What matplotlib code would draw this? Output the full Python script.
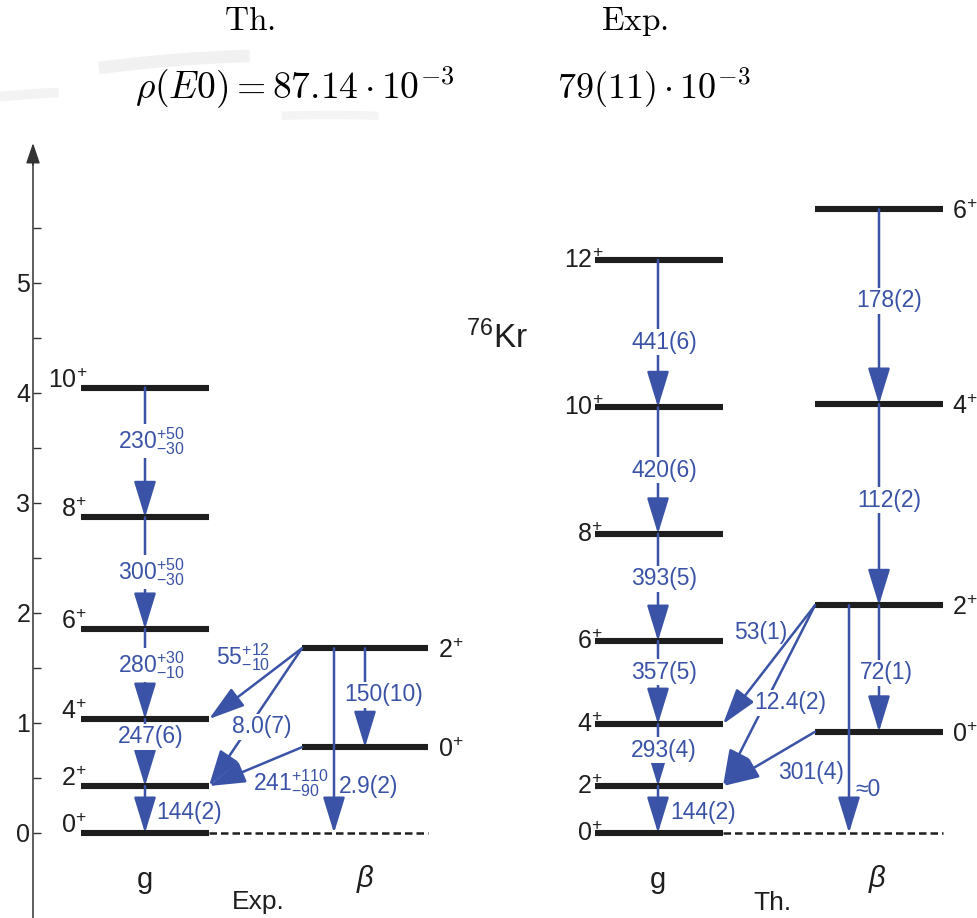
import matplotlib.pyplot as plt
from matplotlib.patches import Arc

plt.rcParams['font.family'] = 'Liberation Sans'
plt.rcParams['mathtext.fontset'] = 'custom'
plt.rcParams['mathtext.rm'] = 'Liberation Sans'
plt.rcParams['mathtext.it'] = 'Liberation Sans:italic'
plt.rcParams['mathtext.bf'] = 'Liberation Sans:bold'

BLUE = '#3a53a6'
INK = '#1e1e1e'

# experiment (left), level energies in MeV
exp_g_energy = [0.0, 0.427, 1.036, 1.855, 2.87, 4.05]
exp_g_spin = ['0', '2', '4', '6', '8', '10']
exp_b_energy = [0.78, 1.68]
exp_b_spin = ['0', '2']
exp_g_trans = ['144(2)', '247(6)', r'$280^{+30}_{-10}$', r'$300^{+50}_{-30}$', r'$230^{+50}_{-30}$']
exp_b_trans = ['150(10)']
exp_inter = [r'$55^{+12}_{-10}$', '8.0(7)', r'$241^{+110}_{-90}$', '2.9(2)']

# theory (right)
th_g_energy = [0.0, 0.427, 0.99, 1.745, 2.72, 3.87, 5.21]
th_g_spin = ['0', '2', '4', '6', '8', '10', '12']
th_b_energy = [0.92, 2.07, 3.90, 5.67]
th_b_spin = ['0', '2', '4', '6']
th_g_trans = ['144(2)', '293(4)', '357(5)', '393(5)', '420(6)', '441(6)']
th_b_trans = ['72(1)', '112(2)', '178(2)']
th_inter = ['53(1)', '12.4(2)', '301(4)', '\u22480']

yticks = [0, 1, 2, 3, 4, 5]


def e(py):
    # pixel row -> energy
    return (833 - py) / 110.0


fig = plt.figure(figsize=(9.78, 9.18), dpi=100)

# faint background swoosh
bg = fig.add_axes([0, 0, 1, 1], zorder=-1)
bg.set_xlim(0, 978)
bg.set_ylim(918, 0)
bg.axis('off')
bg.add_patch(Arc((300, 1500), 3000, 2890, theta1=262, theta2=268, color='#f1f1f1', lw=9))
bg.add_patch(Arc((150, 1400), 3000, 2620, theta1=262, theta2=266, color='#f3f3f3', lw=7))
bg.add_patch(Arc((330, 1500), 3000, 2770, theta1=268, theta2=272, color='#f4f4f4', lw=6))

ax = fig.add_axes([0, 0, 1, 1])
ax.set_xlim(0, 978)
ax.set_ylim(e(918), e(0))
ax.axis('off')

# energy axis
axl = fig.add_axes([33 / 978, 0, 0.3, 1])
axl.set_ylim(e(918), e(0))
axl.patch.set_alpha(0)
for s in ['top', 'right', 'bottom']:
    axl.spines[s].set_visible(False)
axl.spines['left'].set_bounds(e(918), e(152))
axl.spines['left'].set_color('#333333')
axl.spines['left'].set_linewidth(1.1)
axl.set_xticks([])
axl.set_yticks(yticks)
axl.set_yticks([t + 0.5 for t in yticks], minor=True)
axl.tick_params(axis='y', which='both', direction='in', length=5.5, width=1,
                color='#333333', labelsize=18, labelcolor=INK, pad=2)
ax.annotate('', xy=(33, e(143)), xytext=(33, e(165)),
            arrowprops=dict(arrowstyle='-|>,head_length=0.5,head_width=0.17',
                            mutation_scale=25, color='#333333', lw=1.1,
                            shrinkA=0, shrinkB=0))


def level(x0, x1, E):
    ax.plot([x0, x1], [E, E], color=INK, lw=4.4, solid_capstyle='butt', zorder=2)


def gamma(x0, E0, x1, E1):
    ax.annotate('', xy=(x1, E1), xytext=(x0, E0), zorder=3,
                arrowprops=dict(arrowstyle='-|>,head_length=0.62,head_width=0.19',
                                mutation_scale=36, lw=1.8, color=BLUE,
                                shrinkA=0, shrinkB=0))


def tlabel(x, py, s, box=False, ha='center'):
    kw = {}
    if box:
        kw['bbox'] = dict(boxstyle='square,pad=0.06', fc='white', ec='none')
    ax.text(x, e(py), s, ha=ha, va='center', color=BLUE, fontsize=16.5, zorder=5, **kw)


def spin(x, E, s, ha, dpy):
    ax.text(x, E - dpy / 110.0, s + r'$^{+}$', ha=ha, va='baseline',
            color=INK, fontsize=18, zorder=4)


# ---------------- experiment ----------------
gx0, gx1, gxa = 81, 209, 145
bx0, bx1 = 302, 428
for E, s in zip(exp_g_energy, exp_g_spin):
    level(gx0, gx1, E)
    spin(gx0 + 6, E, s, 'right', 0)
for E, s in zip(exp_b_energy, exp_b_spin):
    level(bx0, bx1, E)
    spin(bx1 + 10, E, s, 'left', 10)
ax.plot([gx1, bx1], [0, 0], color=INK, lw=1.8, ls=(0, (3, 1.6)), zorder=2)

for i in range(1, len(exp_g_energy)):
    gamma(gxa, exp_g_energy[i], gxa, exp_g_energy[i - 1])
exp_g_pos = [(189, 812, False), (151, 737, True), (151, 665, True), (151, 572, True), (151, 441, True)]
for s, (x, py, box) in zip(exp_g_trans, exp_g_pos):
    tlabel(x, py, s, box)

gamma(365, exp_b_energy[1], 365, exp_b_energy[0])
tlabel(384, 695, exp_b_trans[0], True)

gamma(bx0, exp_b_energy[1], gx1, exp_g_energy[2])
gamma(bx0, exp_b_energy[1], gx1, exp_g_energy[1])
gamma(bx0, exp_b_energy[0], gx1, exp_g_energy[1])
gamma(334, exp_b_energy[1], 334, exp_g_energy[0])
tlabel(243, 657, exp_inter[0])
tlabel(262, 727, exp_inter[1], True)
tlabel(291, 783, exp_inter[2])
tlabel(339, 787, exp_inter[3], ha='left')

# ---------------- theory ----------------
gx0, gx1, gxa = 595, 723, 658
bx0, bx1, bxa = 815, 943, 879
for E, s in zip(th_g_energy, th_g_spin):
    level(gx0, gx1, E)
    spin(gx0 + 8, E, s, 'right', 8)
for E, s in zip(th_b_energy, th_b_spin):
    level(bx0, bx1, E)
    spin(bx1 + 9, E, s, 'left', 10)
ax.plot([gx1, bx1], [0, 0], color=INK, lw=1.8, ls=(0, (3, 1.6)), zorder=2)

for i in range(1, len(th_g_energy)):
    gamma(gxa, th_g_energy[i], gxa, th_g_energy[i - 1])
th_g_pos = [(703, 812, False), (664, 750, True), (664, 672, True), (664, 579, True),
            (664, 470, True), (664, 342, True)]
for s, (x, py, box) in zip(th_g_trans, th_g_pos):
    tlabel(x, py, s, box)

for i in range(1, len(th_b_energy)):
    gamma(bxa, th_b_energy[i], bxa, th_b_energy[i - 1])
th_b_pos = [(886, 673), (889, 500), (889, 301)]
for s, (x, py) in zip(th_b_trans, th_b_pos):
    tlabel(x, py, s, True)

gamma(bx0, th_b_energy[1], gx1, th_g_energy[2])
gamma(bx0, th_b_energy[1], gx1, th_g_energy[1])
gamma(bx0, th_b_energy[0], gx1, th_g_energy[1])
gamma(849, th_b_energy[1], 849, th_g_energy[0])
tlabel(761, 632, th_inter[0])
tlabel(790, 703, th_inter[1], True)
tlabel(811, 772, th_inter[2])
tlabel(855, 789, th_inter[3], ha='left')

# ---------------- labels ----------------
ax.text(466, e(348), r'$^{76}$Kr', ha='left', va='baseline', fontsize=24, color=INK)
for x in [145, 658]:
    ax.text(x, e(888), 'g', ha='center', va='baseline', fontsize=21, color=INK)
for x in [365, 877]:
    ax.text(x, e(879), r'$\beta$', ha='center', va='center', fontsize=21, color=INK)
ax.text(258, e(909), 'Exp.', ha='center', va='baseline', fontsize=19, color=INK)
ax.text(772, e(910), 'Th.', ha='center', va='baseline', fontsize=19, color=INK)

ax.text(249, e(22), r'$\mathrm{Th.}$', math_fontfamily='cm', ha='center', va='center',
        fontsize=24, color='black')
ax.text(635, e(22), r'$\mathrm{Exp.}$', math_fontfamily='cm', ha='center', va='center',
        fontsize=24, color='black')
ax.text(135, e(88), r'$\rho(E0) = 87.14\cdot10^{-3}$', math_fontfamily='cm',
        ha='left', va='center', fontsize=27, color='black')
ax.text(557, e(88), r'$79(11)\cdot10^{-3}$', math_fontfamily='cm',
        ha='left', va='center', fontsize=26, color='black')

fig.savefig('out.png', dpi=100)
